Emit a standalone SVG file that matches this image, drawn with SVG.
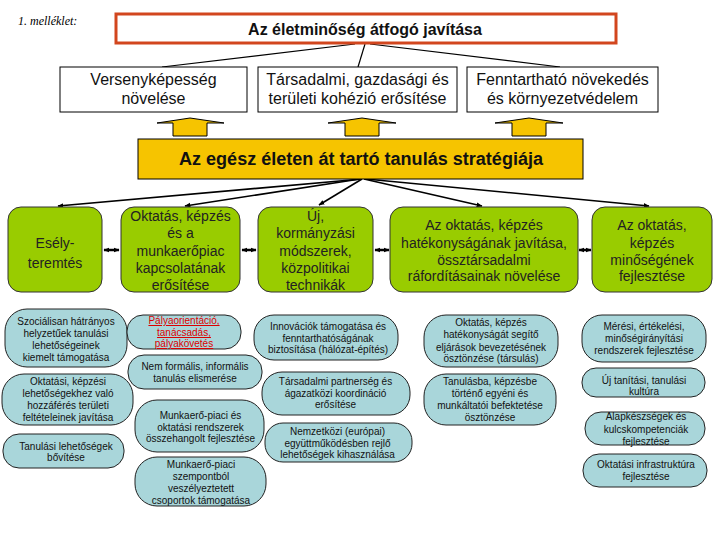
<svg xmlns="http://www.w3.org/2000/svg" width="720" height="540" viewBox="0 0 720 540">
<defs>
<marker id="ah" viewBox="0 0 10 10" refX="9" refY="5" markerWidth="6" markerHeight="6" orient="auto-start-reverse" markerUnits="userSpaceOnUse">
<path d="M0,1 L10,5 L0,9 Z" fill="#000"/>
</marker>
</defs>
<style>
.t{font-family:"Liberation Sans",Arial,sans-serif;fill:#111;text-anchor:middle}
.top{font-size:16px}
.g{font-size:14px;fill:#222}
.p{font-size:10px}
.red{fill:#dd0000;text-decoration:underline}
.box{fill:#fff;stroke:#000;stroke-width:1}
.green{fill:#99cc00;stroke:#333;stroke-width:1}
.pill{fill:#a9d6da;stroke:#222;stroke-width:1}
.yel{fill:#f6c400;stroke:#000;stroke-width:1}
.ln{stroke:#000;stroke-width:1.2;fill:none}
.arr{stroke:#000;stroke-width:1.6;fill:none;marker-end:url(#ah)}
.dbl{stroke:#000;stroke-width:2.5;fill:none;marker-start:url(#ah);marker-end:url(#ah)}
</style>
<rect width="720" height="540" fill="#fff"/>
<text x="18" y="25" font-family="Liberation Serif,serif" font-style="italic" font-size="12" fill="#000">1. melléklet:</text>

<g id="connectors">
<line class="ln" x1="355" y1="44" x2="162" y2="67"/>
<line class="ln" x1="365" y1="44" x2="358" y2="67"/>
<line class="ln" x1="370" y1="44" x2="560" y2="67"/>
<line class="arr" x1="362" y1="179" x2="58" y2="206"/>
<line class="arr" x1="360" y1="179" x2="185" y2="206"/>
<line class="arr" x1="362" y1="179" x2="319" y2="205"/>
<line class="arr" x1="364" y1="179" x2="482" y2="206"/>
<line class="arr" x1="366" y1="179" x2="649" y2="206"/>
<line class="dbl" x1="104" y1="250" x2="119" y2="250"/>
<line class="dbl" x1="242" y1="250" x2="256" y2="250"/>
<line class="dbl" x1="375" y1="250" x2="389" y2="250"/>
<line class="dbl" x1="579" y1="250" x2="591" y2="250"/>
<polygon class="yel" points="173,136 173,123 157,123 190,118 224,123 207,123 207,136"/>
<polygon class="yel" points="345,136 345,123 328,123 362,118 396,123 379,123 379,136"/>
<polygon class="yel" points="512,136 512,123 495,123 529,118 563,123 546,123 546,136"/>
</g>

<g id="title">
<rect x="116" y="14" width="500" height="29" fill="#fff" stroke="#d2461e" stroke-width="3"/>
<text class="t" x="365" y="35" font-size="16" font-weight="bold">Az életminőség átfogó javítása</text>
</g>

<g id="goal1">
<rect class="box" x="60" y="67" width="187" height="45"/>
<text class="t top" x="153.5" y="85">Versenyképesség</text>
<text class="t top" x="153.5" y="104">növelése</text>
</g>
<g id="goal2">
<rect class="box" x="258" y="67" width="199" height="45"/>
<text class="t top" x="357.5" y="85">Társadalmi, gazdasági és</text>
<text class="t top" x="357.5" y="104">területi kohézió erősítése</text>
</g>
<g id="goal3">
<rect class="box" x="467" y="67" width="191" height="45"/>
<text class="t top" x="562.5" y="85">Fenntartható növekedés</text>
<text class="t top" x="562.5" y="104">és környezetvédelem</text>
</g>

<g id="strategy">
<rect class="yel" x="138" y="139" width="445" height="40"/>
<text class="t" x="361" y="165" font-size="18" font-weight="bold" textLength="364" lengthAdjust="spacingAndGlyphs">Az egész életen át tartó tanulás stratégiája</text>
</g>

<g id="esely">
<rect class="green" x="8" y="207" width="94" height="85" rx="13"/>
<text class="t g" x="55" y="248">Esély-</text>
<text class="t g" x="55" y="268">teremtés</text>
</g>
<g id="munkaeropiac">
<rect class="green" x="121" y="207" width="119" height="85" rx="13"/>
<text class="t g" x="180.5" y="220.5">Oktatás, képzés</text>
<text class="t g" x="180.5" y="238">és a</text>
<text class="t g" x="180.5" y="255.5">munkaerőpiac</text>
<text class="t g" x="180.5" y="273">kapcsolatának</text>
<text class="t g" x="180.5" y="290">erősítése</text>
</g>
<g id="kormanyzas">
<rect class="green" x="258" y="207" width="115" height="85" rx="13"/>
<text class="t g" x="315.5" y="220.5">Új,</text>
<text class="t g" x="315.5" y="238">kormányzási</text>
<text class="t g" x="315.5" y="255.5">módszerek,</text>
<text class="t g" x="315.5" y="273">közpolitikai</text>
<text class="t g" x="315.5" y="290">technikák</text>
</g>
<g id="hatekonysag">
<rect class="green" x="390" y="207" width="188" height="85" rx="13"/>
<text class="t g" x="484" y="230">Az oktatás, képzés</text>
<text class="t g" x="484" y="248">hatékonyságának javítása,</text>
<text class="t g" x="484" y="265">össztársadalmi</text>
<text class="t g" x="484" y="281">ráfordításainak növelése</text>
</g>
<g id="minoseg">
<rect class="green" x="592" y="207" width="120" height="85" rx="13"/>
<text class="t g" x="652" y="230">Az oktatás,</text>
<text class="t g" x="652" y="248">képzés</text>
<text class="t g" x="652" y="265">minőségének</text>
<text class="t g" x="652" y="281">fejlesztése</text>
</g>

<g id="p-szocialis">
<rect class="pill" x="5" y="309" width="122" height="58" rx="22"/>
<text class="t p" x="66" y="324.5">Szociálisan hátrányos</text>
<text class="t p" x="66" y="336.5">helyzetűek tanulási</text>
<text class="t p" x="66" y="348.5">lehetőségeinek</text>
<text class="t p" x="66" y="360.5">kiemelt támogatása</text>
</g>
<g id="p-hozzaferes">
<rect class="pill" x="2" y="374" width="131" height="51" rx="22"/>
<text class="t p" x="68" y="385">Oktatási, képzési</text>
<text class="t p" x="68" y="397">lehetőségekhez való</text>
<text class="t p" x="68" y="409">hozzáférés területi</text>
<text class="t p" x="68" y="421">feltételeinek javítása</text>
</g>
<g id="p-bovites">
<rect class="pill" x="3" y="434" width="121" height="34" rx="16"/>
<text class="t p" x="66" y="450">Tanulási lehetőségek</text>
<text class="t p" x="66" y="461">bővítése</text>
</g>
<g id="p-palya">
<rect class="pill" x="127" y="315" width="114" height="34" rx="16"/>
<text class="t p red" x="184" y="324">Pályaorientáció,</text>
<text class="t p red" x="184" y="336">tanácsadás,</text>
<text class="t p red" x="184" y="347">pályakövetés</text>
</g>
<g id="p-nemformalis">
<rect class="pill" x="128" y="355" width="134" height="34" rx="16"/>
<text class="t p" x="195" y="370">Nem formális, informális</text>
<text class="t p" x="195" y="382">tanulás elismerése</text>
</g>
<g id="p-osszehangolt">
<rect class="pill" x="135" y="400" width="129" height="52" rx="22"/>
<text class="t p" x="200.5" y="418.5">Munkaerő-piaci és</text>
<text class="t p" x="200.5" y="430.5">oktatási rendszerek</text>
<text class="t p" x="200.5" y="442">összehangolt fejlesztése</text>
</g>
<g id="p-veszelyeztetett">
<rect class="pill" x="135" y="457" width="131" height="49" rx="22"/>
<text class="t p" x="201" y="467.5">Munkaerő-piaci</text>
<text class="t p" x="201" y="479.5">szempontból</text>
<text class="t p" x="201" y="491.5">veszélyeztetett</text>
<text class="t p" x="201" y="503.5">csoportok támogatása</text>
</g>
<g id="p-innovacio">
<rect class="pill" x="254" y="315" width="144" height="45" rx="20"/>
<text class="t p" x="328" y="330">Innovációk támogatása és</text>
<text class="t p" x="328" y="342">fenntarthatóságának</text>
<text class="t p" x="328" y="353">biztosítása (hálózat-építés)</text>
</g>
<g id="p-partnerseg">
<rect class="pill" x="262" y="372" width="148" height="43" rx="20"/>
<text class="t p" x="335.5" y="385">Társadalmi partnerség és</text>
<text class="t p" x="335.5" y="397">ágazatközi koordináció</text>
<text class="t p" x="335.5" y="408">erősítése</text>
</g>
<g id="p-nemzetkozi">
<rect class="pill" x="265" y="423" width="147" height="39" rx="18"/>
<text class="t p" x="337.5" y="435">Nemzetközi (európai)</text>
<text class="t p" x="337.5" y="447">együttműködésben rejlő</text>
<text class="t p" x="337.5" y="458">lehetőségek kihasználása</text>
</g>
<g id="p-eljarasok">
<rect class="pill" x="424" y="315" width="134" height="52" rx="22"/>
<text class="t p" x="491" y="326">Oktatás, képzés</text>
<text class="t p" x="491" y="338">hatékonyságát segítő</text>
<text class="t p" x="491" y="351">eljárások bevezetésének</text>
<text class="t p" x="491" y="362">ösztönzése (társulás)</text>
</g>
<g id="p-befektetes">
<rect class="pill" x="424" y="374" width="132" height="51" rx="22"/>
<text class="t p" x="490" y="385">Tanulásba, képzésbe</text>
<text class="t p" x="490" y="397">történő egyéni és</text>
<text class="t p" x="490" y="409">munkáltatói befektetése</text>
<text class="t p" x="490" y="421">ösztönzése</text>
</g>
<g id="p-meres">
<rect class="pill" x="582" y="315" width="124" height="47" rx="20"/>
<text class="t p" x="644" y="330">Mérési, értékelési,</text>
<text class="t p" x="644" y="342">minőségirányítási</text>
<text class="t p" x="644" y="354">rendszerek fejlesztése</text>
</g>
<g id="p-kultura">
<rect class="pill" x="582" y="368" width="123" height="29" rx="14"/>
<text class="t p" x="644" y="384">Új tanítási, tanulási</text>
<text class="t p" x="644" y="395">kultúra</text>
</g>
<g id="p-alapkeszsegek">
<rect class="pill" x="585" y="412" width="120" height="33" rx="16"/>
<text class="t p" x="646" y="420">Alapkészségek és</text>
<text class="t p" x="646" y="433">kulcskompetenciák</text>
<text class="t p" x="646" y="445">fejlesztése</text>
</g>
<g id="p-infrastruktura">
<rect class="pill" x="583" y="454" width="124" height="33" rx="16"/>
<text class="t p" x="646" y="468">Oktatási infrastruktúra</text>
<text class="t p" x="646" y="480">fejlesztése</text>
</g>
</svg>
